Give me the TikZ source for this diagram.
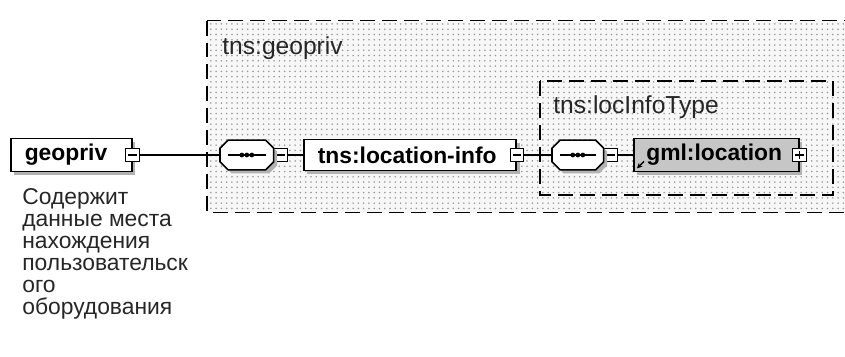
\documentclass[tikz,border=0pt]{standalone}
\usepackage{fontspec}
\setmainfont{Liberation Sans}
\usetikzlibrary{shadows,patterns,calc,arrows.meta}

\tikzset{
    boxshadow/.style={drop shadow={shadow xshift=0.07cm, shadow yshift=-0.07cm, fill=gray!60, opacity=1}},
    elembox/.style={draw, line width=0.9pt, fill=white, boxshadow,
        font=\bfseries\fontsize{13}{15}\selectfont, minimum height=0.62cm,
        inner xsep=0.28cm, align=left, anchor=west},
    seqbox/.style={minimum width=1.06cm, minimum height=0.58cm, inner sep=0, anchor=west},
    minusbox/.style={draw, line width=0.7pt, fill=white, minimum size=0.27cm, inner sep=0,
        path picture={
            \draw[line width=0.7pt] ([xshift=0.05cm]path picture bounding box.west)
                -- ([xshift=-0.05cm]path picture bounding box.east);
        }},
    plusbox/.style={draw, line width=0.7pt, fill=white, minimum size=0.27cm, inner sep=0,
        path picture={
            \draw[line width=0.7pt] ([xshift=0.05cm]path picture bounding box.west)
                -- ([xshift=-0.05cm]path picture bounding box.east);
            \draw[line width=0.7pt] ([yshift=-0.05cm]path picture bounding box.north)
                -- ([yshift=0.05cm]path picture bounding box.south);
        }},
    groupbox/.style={draw, line width=0.7pt, dash pattern=on 0.3cm off 0.14cm},
    grouplabel/.style={font=\fontsize{14}{16}\selectfont, text=black!85, inner sep=0, anchor=west},
    link/.style={line width=0.9pt},
}

\begin{document}
\begin{tikzpicture}[x=0.02cm, y=-0.02cm]
    \useasboundingbox (0, 0) rectangle (845, 356);
    \clip (0, 0) rectangle (845, 356);

    % model groups
    \draw[groupbox, fill=gray!6, postaction={pattern=dots, pattern color=gray!80}]
        (207, 20.5) rectangle (880, 212.5);
    \node[grouplabel] (geoprivtype) at (222, 48) {tns:geopriv};
    \draw[groupbox] (540, 81) rectangle (833, 195);
    \node[grouplabel] (locinfotype) at (553, 107) {tns:locInfoType};

    % elements
    \node[elembox, text width=1.86cm] (geopriv) at (10, 155) {geopriv};
    \node[minusbox] (geoprivtgl) at (geopriv.east) {};
    \node[font=\fontsize{13}{12.6}\selectfont, text=black!85, align=left, inner sep=0,
        anchor=north west] (geoprivdoc) at (22, 188)
        {Содержит\\данные места\\нахождения\\пользовательск\\ого\\оборудования};

    \node[seqbox] (seqa) at (220, 155) {};
    \node[minusbox, anchor=west] (seqatgl) at (seqa.east) {};

    \node[elembox, text width=3.69cm] (locinfo) at (303, 155) {tns:location-info};
    \node[minusbox] (locinfotgl) at (locinfo.east) {};

    \node[seqbox, minimum width=1.02cm] (seqb) at (552, 155) {};
    \node[minusbox, anchor=west] (seqbtgl) at (seqb.east) {};

    \node[elembox, fill=gray!45, minimum height=0.66cm, inner xsep=0.25cm, text width=2.8cm]
        (gmlloc) at (633, 155) {gml:location};
    \node[plusbox] (gmltgl) at (gmlloc.east) {};
    \draw[line width=0.8pt, -{Stealth[length=3pt, width=3pt]}]
        ($(gmlloc.south west)+(11, -11)$) -- ($(gmlloc.south west)+(4, -4)$);

    % sequence compositors
    \foreach \s in {seqa, seqb}{
        \draw[line width=0.9pt, fill=white, boxshadow]
            ([xshift=0.16cm]\s.north west) -- ([xshift=-0.16cm]\s.north east)
            -- ([yshift=-0.16cm]\s.north east) -- ([yshift=0.16cm]\s.south east)
            -- ([xshift=-0.16cm]\s.south east) -- ([xshift=0.16cm]\s.south west)
            -- ([yshift=0.16cm]\s.south west) -- ([yshift=-0.16cm]\s.north west) -- cycle;
        \draw[line width=0.7pt] ([xshift=0.15cm]\s.west) -- ([xshift=-0.15cm]\s.east);
        \foreach \d in {-0.1, 0, 0.1}
            \fill ([xshift=\d cm]\s.center) circle (0.048cm);
    };

    % connectors
    \draw[link] (geoprivtgl.east) -- (seqa.west);
    \draw[link] (seqatgl.east) -- (locinfo.west);
    \draw[link] (locinfotgl.east) -- (seqb.west);
    \draw[link] (seqbtgl.east) -- (gmlloc.west);
\end{tikzpicture}
\end{document}
